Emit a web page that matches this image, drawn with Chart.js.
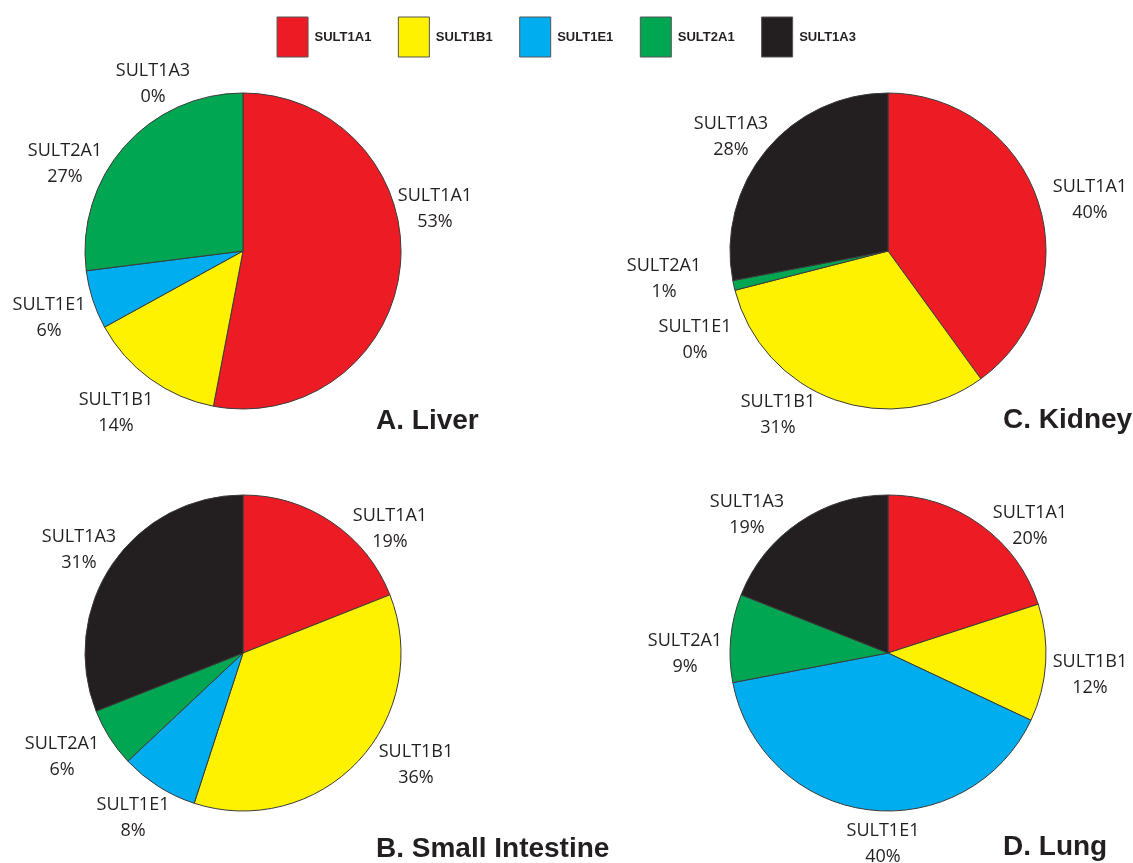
<!DOCTYPE html>
<html>
<head>
<meta charset="utf-8">
<script src="https://cdn.jsdelivr.net/npm/chart.js@4.4.1/dist/chart.umd.min.js"></script>
<style>
  html, body { margin: 0; padding: 0; background: #fff; }
  #page { position: relative; width: 1133px; height: 863px; overflow: hidden; }
  #page canvas { position: absolute; }
</style>
</head>
<body>
<div id="page">
  <canvas id="legendChart" width="1133" height="200"></canvas>
  <canvas id="liverChart" width="760" height="420"></canvas>
  <canvas id="kidneyChart" width="760" height="420"></canvas>
  <canvas id="intestineChart" width="760" height="420"></canvas>
  <canvas id="lungChart" width="760" height="420"></canvas>
</div>
<script>
// isoform names (clockwise from 12 o'clock)
const categories = ['SULT1A1', 'SULT1B1', 'SULT1E1', 'SULT2A1', 'SULT1A3'];
const colors = ['#ED1C24', '#FFF200', '#00AEEF', '#00A651', '#231F20'];

// percent of total SULT per tissue
const liverValues = [53, 14, 6, 27, 0];
const intestineValues = [19, 36, 8, 6, 31];
const kidneyValues = [40, 31, 0, 1, 28];
const lungValues = [20, 12, 40, 9, 19];

const panelTitles = ['A. Liver', 'B. Small Intestine', 'C. Kidney', 'D. Lung'];

const pieRadius = 158;
const textColor = '#231F20';

// where each pie sits on the page and where its labels go (offsets from pie centre)
const panels = [
    {
        canvas: 'liverChart', values: liverValues, title: panelTitles[0],
        center: [243, 251], titleAt: [133, 170],
        labelAt: [[192, -42], [-127, 162], [-194, 67], [-178, -87], [-90, -167]]
    },
    {
        canvas: 'intestineChart', values: intestineValues, title: panelTitles[1],
        center: [243, 653], titleAt: [133, 196],
        labelAt: [[147, -124], [173, 112], [-110, 165], [-181, 104], [-164, -103]]
    },
    {
        canvas: 'kidneyChart', values: kidneyValues, title: panelTitles[2],
        center: [888, 251], titleAt: [115, 169],
        labelAt: [[202, -51], [-110, 164], [-193, 89], [-224, 28], [-157, -114]]
    },
    {
        canvas: 'lungChart', values: lungValues, title: panelTitles[3],
        center: [888, 653], titleAt: [115, 194],
        labelAt: [[142, -127], [202, 22], [-5, 191], [-203, 1], [-141, -138]]
    }
];

// draws "name / xx%" labels and the panel title
const pieLabels = {
    id: 'pieLabels',
    afterDraw(chart, args, opts) {
        const ctx = chart.ctx;
        const arc = chart.getDatasetMeta(0).data[0];
        const cx = arc.x, cy = arc.y;
        const values = chart.data.datasets[0].data;
        ctx.save();
        ctx.fillStyle = textColor;
        ctx.textAlign = 'center';
        ctx.textBaseline = 'middle';
        ctx.font = '18px "Open Sans", sans-serif';
        chart.data.labels.forEach((name, i) => {
            const [dx, dy] = opts.labelAt[i];
            ctx.fillText(name, cx + dx, cy + dy - 13);
            ctx.fillText(values[i] + '%', cx + dx, cy + dy + 13);
        });
        ctx.textAlign = 'left';
        ctx.font = 'bold 28px "Liberation Sans", Arial, sans-serif';
        ctx.fillText(opts.title, cx + opts.titleAt[0], cy + opts.titleAt[1]);
        ctx.restore();
    }
};

panels.forEach(panel => {
    const el = document.getElementById(panel.canvas);
    el.style.left = (panel.center[0] - el.width / 2) + 'px';
    el.style.top = (panel.center[1] - el.height / 2) + 'px';

    new Chart(el, {
        type: 'pie',
        data: {
            labels: categories,
            datasets: [{
                data: panel.values,
                backgroundColor: colors,
                borderColor: '#3a3a3a',
                borderWidth: 1
            }]
        },
        options: {
            responsive: false,
            animation: false,
            radius: pieRadius,
            layout: { padding: 0 },
            plugins: {
                legend: { display: false },
                tooltip: { enabled: false },
                pieLabels: { labelAt: panel.labelAt, title: panel.title, titleAt: panel.titleAt }
            }
        },
        plugins: [pieLabels]
    });
});

// shared legend along the top
const legendEl = document.getElementById('legendChart');
legendEl.style.left = '0px';
legendEl.style.top = '-10px';
new Chart(legendEl, {
    type: 'doughnut',
    data: {
        labels: categories,
        datasets: [{
            data: categories.map(() => 0),
            backgroundColor: colors,
            borderColor: '#555',
            borderWidth: 1
        }]
    },
    options: {
        responsive: false,
        animation: false,
        radius: 0,
        plugins: {
            tooltip: { enabled: false },
            legend: {
                position: 'top',
                labels: {
                    boxWidth: 31,
                    boxHeight: 40,
                    padding: 27,
                    color: textColor,
                    font: { family: '"Liberation Sans", Arial, sans-serif', weight: 'bold', size: 13 }
                }
            }
        }
    }
});
</script>
</body>
</html>
